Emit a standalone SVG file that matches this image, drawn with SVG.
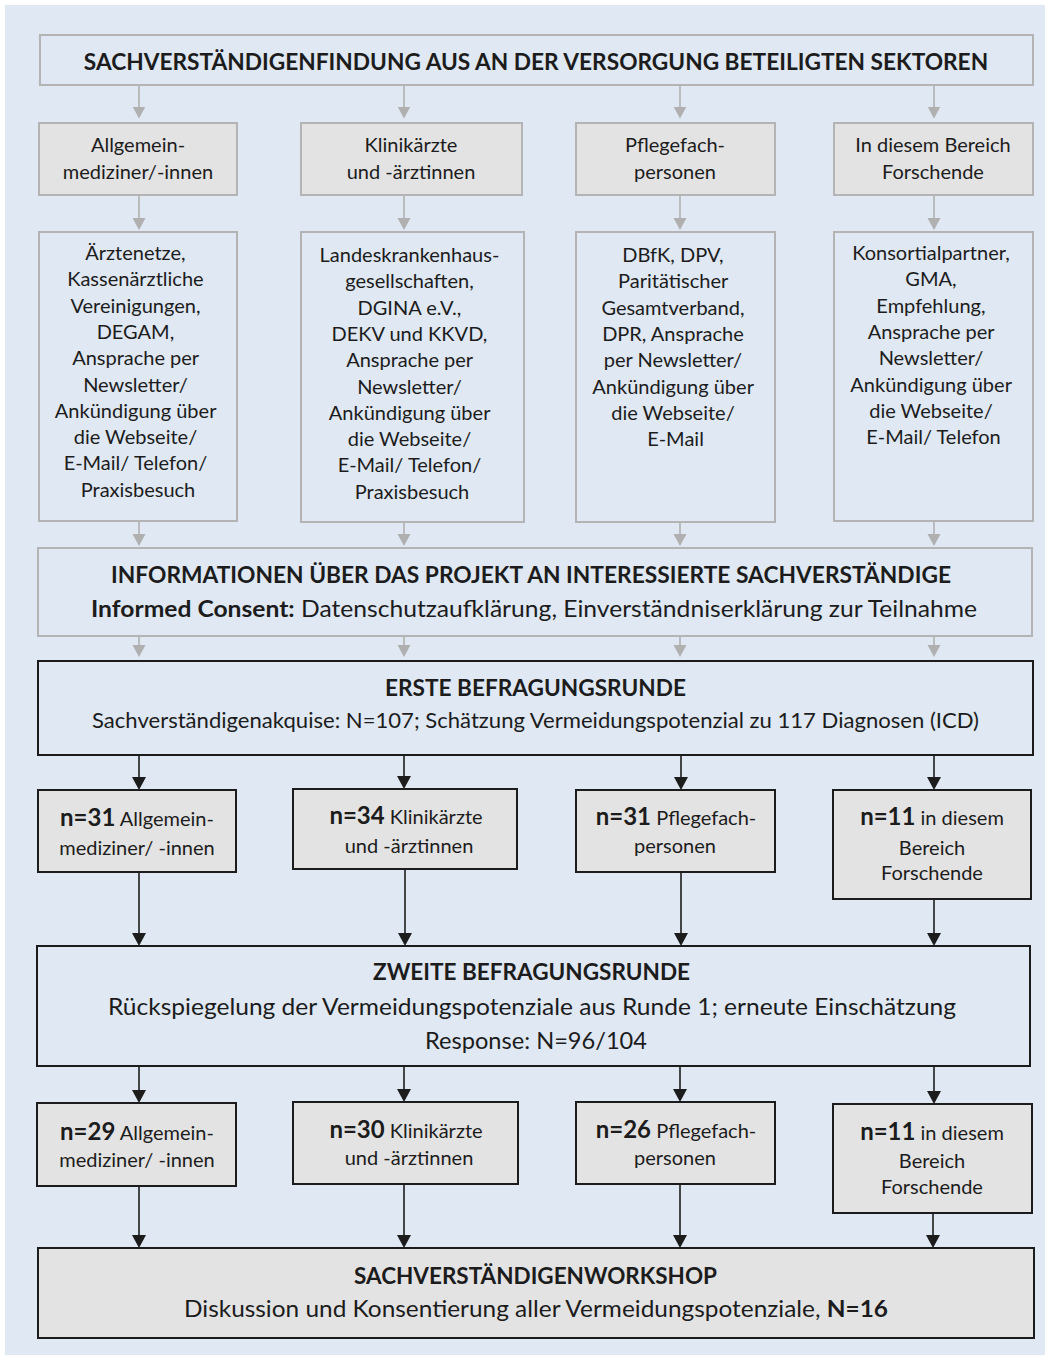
<svg xmlns="http://www.w3.org/2000/svg" width="1050" height="1360" viewBox="0 0 1050 1360">
<defs>
<style>
text{font-family:Lato,"Open Sans","Liberation Sans",sans-serif;fill:#1c1c1c;text-anchor:middle}
.bg{fill:#dfe8f3}
.gb{fill:#dfe8f3;stroke:#b4b4b4;stroke-width:2}
.gg{fill:#e3e3e3;stroke:#b4b4b4;stroke-width:2}
.kb{fill:#dfe8f3;stroke:#1c1c1c;stroke-width:2}
.kg{fill:#e3e3e3;stroke:#1c1c1c;stroke-width:2}
.h{font-weight:bold}
.t20{font-size:20px}
.b{font-weight:bold;font-size:24px}
.ga{stroke:#b0b0b0;stroke-width:1.6;fill:none;marker-end:url(#ag)}
.ka{stroke:#1c1c1c;stroke-width:1.6;fill:none;marker-end:url(#ak)}
</style>
<marker id="ag" markerUnits="userSpaceOnUse" markerWidth="14" markerHeight="14" refX="6" refY="6.5" orient="auto"><path d="M0,0L12,6.5L0,13z" fill="#b0b0b0"/></marker>
<marker id="ak" markerUnits="userSpaceOnUse" markerWidth="15" markerHeight="15" refX="6" refY="7" orient="auto"><path d="M0,0L13,7L0,14z" fill="#1c1c1c"/></marker>
</defs>
<rect class="bg" x="5" y="5" width="1040" height="1350"/>

<g id="connectors">
<line class="ga" x1="139" y1="86" x2="139" y2="112.5"/>
<line class="ga" x1="404" y1="86" x2="404" y2="112.5"/>
<line class="ga" x1="680" y1="86" x2="680" y2="112.5"/>
<line class="ga" x1="934" y1="86" x2="934" y2="112.5"/>
<line class="ga" x1="139" y1="196" x2="139" y2="224"/>
<line class="ga" x1="404" y1="196" x2="404" y2="224"/>
<line class="ga" x1="680" y1="196" x2="680" y2="224"/>
<line class="ga" x1="934" y1="196" x2="934" y2="224"/>
<line class="ga" x1="139" y1="522" x2="139" y2="540"/>
<line class="ga" x1="404" y1="523" x2="404" y2="540"/>
<line class="ga" x1="680" y1="523" x2="680" y2="540"/>
<line class="ga" x1="934" y1="522" x2="934" y2="540"/>
<line class="ga" x1="139" y1="637" x2="139" y2="651"/>
<line class="ga" x1="404" y1="637" x2="404" y2="651"/>
<line class="ga" x1="680" y1="637" x2="680" y2="651"/>
<line class="ga" x1="934" y1="637" x2="934" y2="651"/>
<line class="ka" x1="139" y1="755" x2="139" y2="783"/>
<line class="ka" x1="404" y1="755" x2="404" y2="782"/>
<line class="ka" x1="681" y1="755" x2="681" y2="783"/>
<line class="ka" x1="934" y1="755" x2="934" y2="783"/>
<line class="ka" x1="139" y1="872" x2="139" y2="939"/>
<line class="ka" x1="405" y1="869" x2="405" y2="939"/>
<line class="ka" x1="681" y1="872" x2="681" y2="939"/>
<line class="ka" x1="934" y1="899" x2="934" y2="939"/>
<line class="ka" x1="139" y1="1066" x2="139" y2="1096"/>
<line class="ka" x1="404" y1="1066" x2="404" y2="1095"/>
<line class="ka" x1="680" y1="1066" x2="680" y2="1095"/>
<line class="ka" x1="934" y1="1066" x2="934" y2="1097"/>
<line class="ka" x1="139" y1="1186" x2="139" y2="1241"/>
<line class="ka" x1="404" y1="1184" x2="404" y2="1241"/>
<line class="ka" x1="680" y1="1184" x2="680" y2="1241"/>
<line class="ka" x1="933" y1="1213" x2="933" y2="1241"/>
</g>

<g id="sektoren">
<rect class="gb" x="40" y="35" width="993" height="50"/>
<text class="h" x="536" y="70" font-size="22.7">SACHVERSTÄNDIGENFINDUNG AUS AN DER VERSORGUNG BETEILIGTEN SEKTOREN</text>
</g>

<g id="allgemein">
<rect class="gg" x="39" y="123" width="198" height="72"/>
<text class="t20" x="138" y="152">Allgemein-</text>
<text class="t20" x="138" y="179">mediziner/-innen</text>
</g>
<g id="klinik">
<rect class="gg" x="301" y="123" width="221" height="72"/>
<text class="t20" x="411" y="152">Klinikärzte</text>
<text class="t20" x="411" y="179">und -ärztinnen</text>
</g>
<g id="pflege">
<rect class="gg" x="576" y="123" width="199" height="72"/>
<text class="t20" x="675" y="152">Pflegefach-</text>
<text class="t20" x="675" y="179">personen</text>
</g>
<g id="forschende">
<rect class="gg" x="834" y="123" width="199" height="72"/>
<text class="t20" x="933" y="152">In diesem Bereich</text>
<text class="t20" x="933" y="179">Forschende</text>
</g>

<g id="kanaele-allgemein">
<rect class="gb" x="39" y="232" width="198" height="289"/>
<text class="t20" x="138">
<tspan x="138" y="260">Ärztenetze,</tspan>
<tspan x="138" y="286.3">Kassenärztliche</tspan>
<tspan x="138" y="312.6">Vereinigungen,</tspan>
<tspan x="138" y="338.9">DEGAM,</tspan>
<tspan x="138" y="365.2">Ansprache per</tspan>
<tspan x="138" y="391.5">Newsletter/</tspan>
<tspan x="138" y="417.8">Ankündigung über</tspan>
<tspan x="138" y="444.1">die Webseite/</tspan>
<tspan x="138" y="470.4">E-Mail/ Telefon/</tspan>
<tspan x="138" y="496.7">Praxisbesuch</tspan>
</text>
</g>
<g id="kanaele-klinik">
<rect class="gb" x="301" y="232" width="223" height="290"/>
<text class="t20" x="412">
<tspan x="412" y="262">Landeskrankenhaus-</tspan>
<tspan x="412" y="288.3">gesellschaften,</tspan>
<tspan x="412" y="314.6">DGINA e.V.,</tspan>
<tspan x="412" y="340.9">DEKV und KKVD,</tspan>
<tspan x="412" y="367.2">Ansprache per</tspan>
<tspan x="412" y="393.5">Newsletter/</tspan>
<tspan x="412" y="419.8">Ankündigung über</tspan>
<tspan x="412" y="446.1">die Webseite/</tspan>
<tspan x="412" y="472.4">E-Mail/ Telefon/</tspan>
<tspan x="412" y="498.7">Praxisbesuch</tspan>
</text>
</g>
<g id="kanaele-pflege">
<rect class="gb" x="576" y="232" width="199" height="290"/>
<text class="t20" x="675.5">
<tspan x="675.5" y="262">DBfK, DPV,</tspan>
<tspan x="675.5" y="288.3">Paritätischer</tspan>
<tspan x="675.5" y="314.6">Gesamtverband,</tspan>
<tspan x="675.5" y="340.9">DPR, Ansprache</tspan>
<tspan x="675.5" y="367.2">per Newsletter/</tspan>
<tspan x="675.5" y="393.5">Ankündigung über</tspan>
<tspan x="675.5" y="419.8">die Webseite/</tspan>
<tspan x="675.5" y="446.1">E-Mail</tspan>
</text>
</g>
<g id="kanaele-forschende">
<rect class="gb" x="834" y="232" width="199" height="289"/>
<text class="t20" x="933.5">
<tspan x="933.5" y="260">Konsortialpartner,</tspan>
<tspan x="933.5" y="286.3">GMA,</tspan>
<tspan x="933.5" y="312.6">Empfehlung,</tspan>
<tspan x="933.5" y="338.9">Ansprache per</tspan>
<tspan x="933.5" y="365.2">Newsletter/</tspan>
<tspan x="933.5" y="391.5">Ankündigung über</tspan>
<tspan x="933.5" y="417.8">die Webseite/</tspan>
<tspan x="933.5" y="444.1">E-Mail/ Telefon</tspan>
</text>
</g>

<g id="information">
<rect class="gb" x="38" y="548" width="994" height="88"/>
<text class="h" x="531" y="583" font-size="23" textLength="840" lengthAdjust="spacingAndGlyphs">INFORMATIONEN ÜBER DAS PROJEKT AN INTERESSIERTE SACHVERSTÄNDIGE</text>
<text x="534" y="617" font-size="23" textLength="886" lengthAdjust="spacingAndGlyphs"><tspan font-weight="bold">Informed Consent:</tspan> Datenschutzaufklärung, Einverständniserklärung zur Teilnahme</text>
</g>

<g id="runde1">
<rect class="kb" x="38" y="661" width="995" height="94"/>
<text class="h" x="535.5" y="696" font-size="22" textLength="301" lengthAdjust="spacingAndGlyphs">ERSTE BEFRAGUNGSRUNDE</text>
<text x="535.5" y="728" font-size="22" textLength="887" lengthAdjust="spacingAndGlyphs">Sachverständigenakquise: N=107; Schätzung Vermeidungspotenzial zu 117 Diagnosen (ICD)</text>
</g>

<g id="r1-allgemein">
<rect class="kg" x="38" y="790" width="198" height="82"/>
<text class="t20" x="137" y="826"><tspan class="b">n=31</tspan> Allgemein-</text>
<text class="t20" x="137" y="855">mediziner/ -innen</text>
</g>
<g id="r1-klinik">
<rect class="kg" x="293" y="789" width="224" height="80"/>
<text class="t20" x="406" y="824"><tspan class="b">n=34</tspan> Klinikärzte</text>
<text class="t20" x="409" y="853">und -ärztinnen</text>
</g>
<g id="r1-pflege">
<rect class="kg" x="576" y="790" width="199" height="82"/>
<text class="t20" x="676" y="825"><tspan class="b">n=31</tspan> Pflegefach-</text>
<text class="t20" x="675" y="853">personen</text>
</g>
<g id="r1-forschende">
<rect class="kg" x="833" y="790" width="198" height="109"/>
<text class="t20" x="932" y="825"><tspan class="b">n=11</tspan> in diesem</text>
<text class="t20" x="932" y="855">Bereich</text>
<text class="t20" x="932" y="880">Forschende</text>
</g>

<g id="runde2">
<rect class="kb" x="37" y="946" width="993" height="120"/>
<text class="h" x="531.5" y="980" font-size="23" textLength="317" lengthAdjust="spacingAndGlyphs">ZWEITE BEFRAGUNGSRUNDE</text>
<text x="532" y="1015" font-size="23" textLength="848" lengthAdjust="spacingAndGlyphs">Rückspiegelung der Vermeidungspotenziale aus Runde 1; erneute Einschätzung</text>
<text x="536" y="1049" font-size="23" textLength="222" lengthAdjust="spacingAndGlyphs">Response: N=96/104</text>
</g>

<g id="r2-allgemein">
<rect class="kg" x="37" y="1103" width="199" height="83"/>
<text class="t20" x="137" y="1140"><tspan class="b">n=29</tspan> Allgemein-</text>
<text class="t20" x="137" y="1167">mediziner/ -innen</text>
</g>
<g id="r2-klinik">
<rect class="kg" x="293" y="1102" width="225" height="82"/>
<text class="t20" x="406" y="1138"><tspan class="b">n=30</tspan> Klinikärzte</text>
<text class="t20" x="409" y="1165">und -ärztinnen</text>
</g>
<g id="r2-pflege">
<rect class="kg" x="576" y="1102" width="199" height="82"/>
<text class="t20" x="676" y="1138"><tspan class="b">n=26</tspan> Pflegefach-</text>
<text class="t20" x="675" y="1165">personen</text>
</g>
<g id="r2-forschende">
<rect class="kg" x="833" y="1104" width="199" height="109"/>
<text class="t20" x="932" y="1140"><tspan class="b">n=11</tspan> in diesem</text>
<text class="t20" x="932" y="1168">Bereich</text>
<text class="t20" x="932" y="1194">Forschende</text>
</g>

<g id="workshop">
<rect class="kg" x="38" y="1248" width="996" height="90"/>
<text class="h" x="535.5" y="1284" font-size="23" textLength="363" lengthAdjust="spacingAndGlyphs">SACHVERSTÄNDIGENWORKSHOP</text>
<text x="536" y="1317" font-size="23" textLength="704" lengthAdjust="spacingAndGlyphs">Diskussion und Konsentierung aller Vermeidungspotenziale, <tspan font-weight="bold">N=16</tspan></text>
</g>
</svg>
